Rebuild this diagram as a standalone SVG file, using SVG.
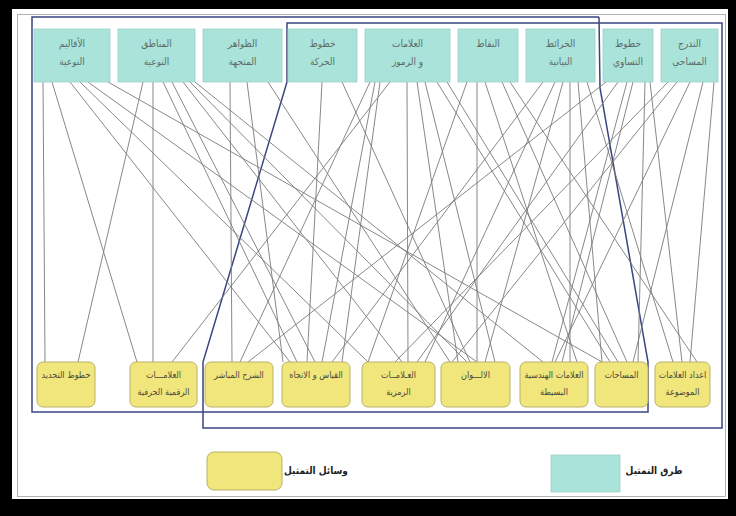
<svg xmlns="http://www.w3.org/2000/svg" width="736" height="516" viewBox="0 0 736 516">
<defs>
<style>
.top{fill:#a9e3da;stroke:#9fd2ca;stroke-width:0.8}
.bot{fill:#f0e67c;stroke:#b9b168;stroke-width:1}
.tt{font-family:"DejaVu Sans Condensed","DejaVu Sans",sans-serif;font-size:10px;fill:#5d6b68;text-anchor:middle}
.bt{font-family:"DejaVu Sans Condensed","DejaVu Sans",sans-serif;font-size:9px;fill:#4a4a3a;text-anchor:middle}
.lg{font-family:"DejaVu Sans Condensed","DejaVu Sans",sans-serif;font-size:10px;font-weight:bold;fill:#222;text-anchor:middle}
.cn line{stroke:#7a7a7a;stroke-width:0.9}
.frame{fill:none;stroke:#3a4580;stroke-width:1.5}
</style>
</defs>
<rect x="0" y="0" width="736" height="516" fill="#000"/>
<rect x="12" y="9" width="716" height="490" fill="#fff"/>
<rect x="17.5" y="14.5" width="708" height="482" fill="none" stroke="#a0a0a0" stroke-width="0.8"/>

<g id="frames">
<polyline class="frame" points="599,17 32,17 32,412 648,412 648,362 600,88 599,17"/>
<polyline class="frame" points="287,82 287,23 722,23 722,428 203,428 203,362 287,82"/>
</g>

<g id="connectors" class="cn">
<line x1="43" y1="82" x2="45" y2="362"/>
<line x1="52" y1="82" x2="137" y2="362"/>
<line x1="70" y1="82" x2="290" y2="362"/>
<line x1="80" y1="82" x2="368" y2="362"/>
<line x1="88" y1="82" x2="477" y2="362"/>
<line x1="108" y1="82" x2="602" y2="362"/>
<line x1="143" y1="82" x2="78" y2="362"/>
<line x1="153" y1="82" x2="153" y2="362"/>
<line x1="163" y1="82" x2="297" y2="362"/>
<line x1="172" y1="82" x2="315" y2="362"/>
<line x1="183" y1="82" x2="402" y2="362"/>
<line x1="190" y1="82" x2="467" y2="362"/>
<line x1="195" y1="82" x2="543" y2="362"/>
<line x1="230" y1="82" x2="232" y2="362"/>
<line x1="247" y1="82" x2="283" y2="362"/>
<line x1="268" y1="82" x2="450" y2="362"/>
<line x1="322" y1="82" x2="307" y2="362"/>
<line x1="342" y1="82" x2="470" y2="362"/>
<line x1="370" y1="82" x2="240" y2="362"/>
<line x1="375" y1="82" x2="322" y2="362"/>
<line x1="380" y1="82" x2="342" y2="362"/>
<line x1="390" y1="82" x2="172" y2="362"/>
<line x1="407" y1="82" x2="408" y2="362"/>
<line x1="417" y1="82" x2="458" y2="362"/>
<line x1="425" y1="82" x2="495" y2="362"/>
<line x1="437" y1="82" x2="610" y2="362"/>
<line x1="447" y1="82" x2="618" y2="362"/>
<line x1="467" y1="82" x2="368" y2="362"/>
<line x1="477" y1="82" x2="477" y2="362"/>
<line x1="485" y1="82" x2="577" y2="362"/>
<line x1="502" y1="82" x2="627" y2="362"/>
<line x1="510" y1="82" x2="697" y2="362"/>
<line x1="543" y1="82" x2="332" y2="362"/>
<line x1="555" y1="82" x2="425" y2="362"/>
<line x1="563" y1="82" x2="485" y2="362"/>
<line x1="570" y1="82" x2="570" y2="362"/>
<line x1="578" y1="82" x2="602" y2="362"/>
<line x1="587" y1="82" x2="673" y2="362"/>
<line x1="606" y1="82" x2="248" y2="362"/>
<line x1="618" y1="82" x2="417" y2="362"/>
<line x1="627" y1="82" x2="552" y2="362"/>
<line x1="633" y1="82" x2="562" y2="362"/>
<line x1="645" y1="82" x2="638" y2="362"/>
<line x1="650" y1="82" x2="682" y2="362"/>
<line x1="668" y1="82" x2="395" y2="362"/>
<line x1="677" y1="82" x2="452" y2="362"/>
<line x1="690" y1="82" x2="555" y2="362"/>
<line x1="703" y1="82" x2="633" y2="362"/>
<line x1="714" y1="82" x2="690" y2="362"/>
</g>

<g id="t1"><rect class="top" x="34" y="29" width="76" height="53"/><text class="tt" x="72" y="47">الأقاليم</text><text class="tt" x="72" y="65">النوعية</text></g>
<g id="t2"><rect class="top" x="118" y="29" width="77" height="53"/><text class="tt" x="156.5" y="47">المناطق</text><text class="tt" x="156.5" y="65">النوعية</text></g>
<g id="t3"><rect class="top" x="203" y="29" width="79" height="53"/><text class="tt" x="242.5" y="47">الظواهر</text><text class="tt" x="242.5" y="65">المتجهة</text></g>
<g id="t4"><rect class="top" x="288" y="29" width="69" height="53"/><text class="tt" x="322.5" y="47">خطوط</text><text class="tt" x="322.5" y="65">الحركة</text></g>
<g id="t5"><rect class="top" x="365" y="29" width="85" height="53"/><text class="tt" x="407.5" y="47">العلامات</text><text class="tt" x="407.5" y="65">و الرموز</text></g>
<g id="t6"><rect class="top" x="458" y="29" width="60" height="53"/><text class="tt" x="488" y="47">النقاط</text></g>
<g id="t7"><rect class="top" x="526" y="29" width="69" height="53"/><text class="tt" x="560.5" y="47">الخرائط</text><text class="tt" x="560.5" y="65">البيانية</text></g>
<g id="t8"><rect class="top" x="603" y="29" width="50" height="53"/><text class="tt" x="628" y="47">خطوط</text><text class="tt" x="628" y="65">التساوي</text></g>
<g id="t9"><rect class="top" x="661" y="29" width="57" height="53"/><text class="tt" x="689.5" y="47">التدرج</text><text class="tt" x="689.5" y="65">المساحي</text></g>

<g id="b1"><rect class="bot" x="37" y="362" width="58" height="45" rx="6"/><text class="bt" x="66" y="378">خطوط التحديد</text></g>
<g id="b2"><rect class="bot" x="130" y="362" width="67" height="45" rx="6"/><text class="bt" x="163.5" y="378">العلامـــات</text><text class="bt" x="163.5" y="395">الرقمية الحرفية</text></g>
<g id="b3"><rect class="bot" x="205" y="362" width="68" height="45" rx="6"/><text class="bt" x="239" y="378">الشرح المباشر</text></g>
<g id="b4"><rect class="bot" x="282" y="362" width="68" height="45" rx="6"/><text class="bt" x="316" y="378">القياس و الاتجاه</text></g>
<g id="b5"><rect class="bot" x="362" y="362" width="73" height="45" rx="6"/><text class="bt" x="398.5" y="378">العـلامــات</text><text class="bt" x="398.5" y="395">الرمزية</text></g>
<g id="b6"><rect class="bot" x="441" y="362" width="69" height="45" rx="6"/><text class="bt" x="475.5" y="378">الالـــوان</text></g>
<g id="b7"><rect class="bot" x="520" y="362" width="68" height="45" rx="6"/><text class="bt" x="554" y="378">العلامات الهندسية</text><text class="bt" x="554" y="395">البسيطة</text></g>
<g id="b8"><rect class="bot" x="595" y="362" width="53" height="45" rx="6"/><text class="bt" x="621.5" y="378">المساحات</text></g>
<g id="b9"><rect class="bot" x="655" y="362" width="55" height="45" rx="6"/><text class="bt" x="682.5" y="378">اعداد العلامات</text><text class="bt" x="682.5" y="395">الموضوعة</text></g>

<g id="legend">
<rect class="bot" x="207" y="452" width="75" height="38" rx="7"/>
<text class="lg" x="316" y="474">وسائل التمثيل</text>
<rect class="top" x="551" y="455" width="69" height="37"/>
<text class="lg" x="654" y="474">طرق التمثيل</text>
</g>
</svg>
